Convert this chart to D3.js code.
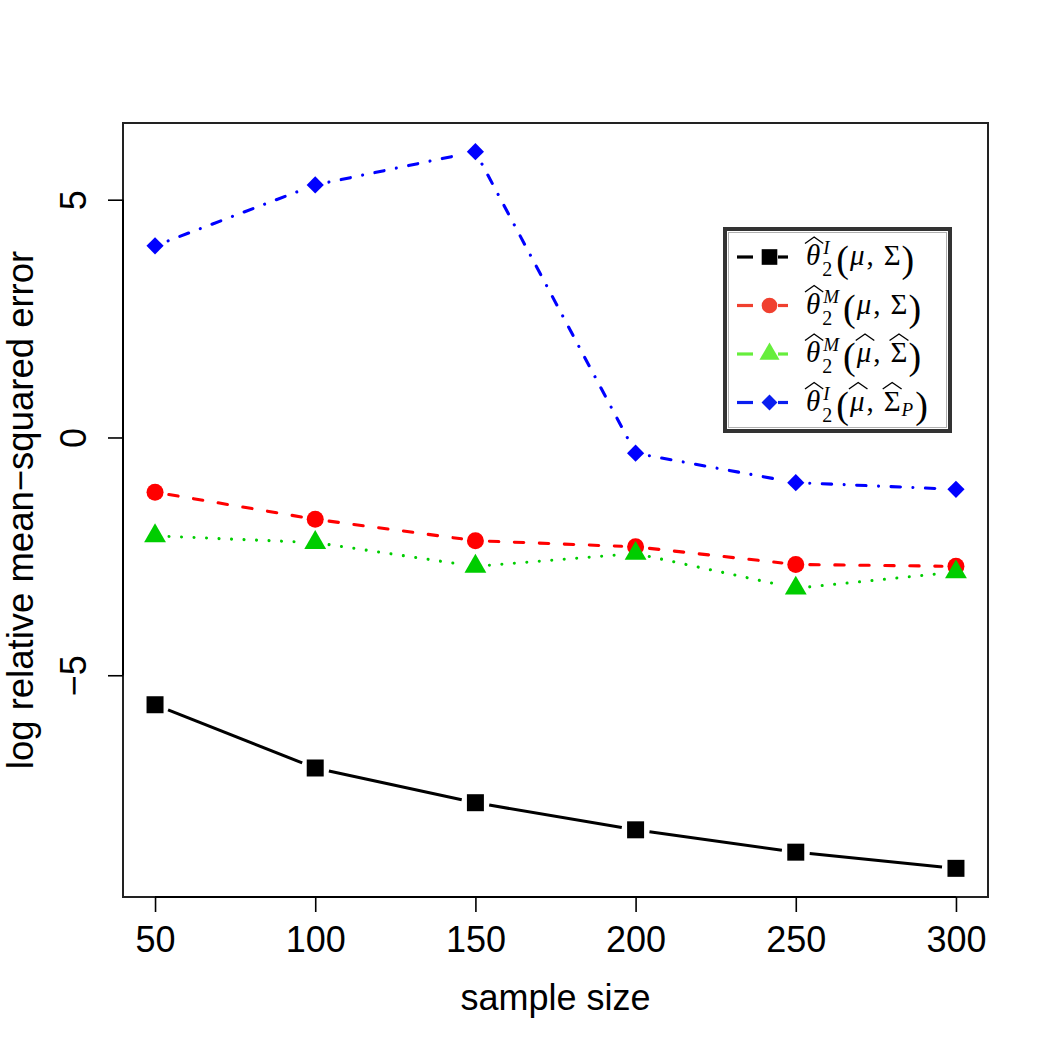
<!DOCTYPE html>
<html><head><meta charset="utf-8">
<script src="https://cdn.jsdelivr.net/npm/d3@7"></script>
<style>html,body{margin:0;padding:0;background:#fff;}</style>
</head><body>
<svg id="chart" width="1050" height="1050" xmlns="http://www.w3.org/2000/svg"></svg>
<script>
// ---------------- data ----------------
const sampleSizes = [50, 100, 150, 200, 250, 300];
const theta2I_mu_Sigma      = [-5.62, -6.95, -7.68, -8.25, -8.72, -9.06];
const theta2M_mu_Sigma      = [-1.15, -1.72, -2.17, -2.30, -2.67, -2.71];
const theta2M_muhat_Sighat  = [-2.07, -2.21, -2.71, -2.44, -3.17, -2.83];
const theta2I_muhat_SigP    = [4.03, 5.31, 6.01, -0.33, -0.95, -1.09];
const xTicks = [50, 100, 150, 200, 250, 300];
const yTicks = [-5, 0, 5];
const xLabel = "sample size";
const yLabel = "log relative mean\u2212squared error";
const legendSup = ["I", "M", "M", "I"];
const legendMuHat = [false, false, true, true];
const legendSigmaHat = [false, false, true, true];
const legendSigmaSub = ["", "", "", "P"];

// ---------------- styles ----------------
const series = [
  {values: theta2I_mu_Sigma,     color: "#000000", legendColor: "#000000", shape: "square",   dash: null},
  {values: theta2M_mu_Sigma,     color: "#FF0000", legendColor: "#f0402f", shape: "circle",   dash: "9.4 15.6"},
  {values: theta2M_muhat_Sighat, color: "#00CD00", legendColor: "#66ee3c", shape: "triangle", dash: "0.01 12.5"},
  {values: theta2I_muhat_SigP,   color: "#0000FF", legendColor: "#0a1ef0", shape: "diamond",  dash: "0.01 12.5 9.4 12.5"}
];

const plot = {left: 123, right: 988, top: 123, bottom: 897};
const svg = d3.select("#chart");
const sansFont = "'Liberation Sans', Arial, Helvetica, sans-serif";
const serifFont = "'Liberation Serif', 'Times New Roman', serif";

// R-like 4% axis extension
function padExtent(ext) { const r = ext[1] - ext[0]; return [ext[0] - 0.04 * r, ext[1] + 0.04 * r]; }
const allY = series.flatMap(s => s.values);
const x = d3.scaleLinear().domain(padExtent(d3.extent(sampleSizes))).range([plot.left, plot.right]);
const y = d3.scaleLinear().domain(padExtent(d3.extent(allY))).range([plot.bottom, plot.top]);

// ---------------- markers ----------------
function shapePath(shape, k) {
  k = k || 1;
  if (shape === "square") { const h = 8.5 * k; return `M${-h},${-h}H${h}V${h}H${-h}Z`; }
  if (shape === "circle") { const r = 8.5 * k; return `M${r},0A${r},${r} 0 1,1 ${-r},0A${r},${r} 0 1,1 ${r},0Z`; }
  if (shape === "triangle") { const xc = 8.1 * k; return `M0,${-1.555 * xc}L${1.347 * xc},${0.778 * xc}L${-1.347 * xc},${0.778 * xc}Z`; }
  if (shape === "diamond") { const h = 8.6 * k; return `M0,${-h}L${h},0L0,${h}L${-h},0Z`; }
}

// ---------------- box ----------------
svg.append("rect").attr("x", plot.left).attr("y", plot.top)
  .attr("width", plot.right - plot.left).attr("height", plot.bottom - plot.top)
  .attr("fill", "none").attr("stroke", "#222").attr("stroke-width", 2);

// ---------------- axes ----------------
const gx = svg.append("g").attr("transform", `translate(0,${plot.bottom})`)
  .call(d3.axisBottom(x).tickValues(xTicks).tickSize(15).tickSizeOuter(0).tickFormat(d3.format("d")));
gx.select(".domain").remove();
gx.append("line").attr("x1", x(xTicks[0])).attr("x2", x(xTicks[xTicks.length - 1]))
  .attr("y1", 0).attr("y2", 0).attr("stroke", "#000").attr("stroke-width", 2);
gx.selectAll(".tick line").attr("stroke", "#000").attr("stroke-width", 1.6);
gx.selectAll(".tick text").attr("y", 55).attr("dy", 0)
  .attr("font-family", sansFont).attr("font-size", 36).attr("fill", "#000");

const gy = svg.append("g").attr("transform", `translate(${plot.left},0)`)
  .call(d3.axisLeft(y).tickValues(yTicks).tickSize(15).tickSizeOuter(0).tickFormat(d => d < 0 ? "\u2212" + Math.abs(d) : d));
gy.select(".domain").remove();
gy.append("line").attr("y1", y(yTicks[0])).attr("y2", y(yTicks[yTicks.length - 1]))
  .attr("x1", 0).attr("x2", 0).attr("stroke", "#000").attr("stroke-width", 2);
gy.selectAll(".tick line").attr("stroke", "#000").attr("stroke-width", 1.6);
gy.selectAll(".tick text").attr("x", null).attr("dy", 0)
  .attr("transform", "translate(-37,0) rotate(-90)")
  .attr("text-anchor", "middle")
  .attr("font-family", sansFont).attr("font-size", 36).attr("fill", "#000");

svg.append("text").attr("x", (plot.left + plot.right) / 2).attr("y", 1010)
  .attr("text-anchor", "middle").attr("font-family", sansFont).attr("font-size", 36).text(xLabel);
svg.append("text").attr("transform", `translate(33,${(plot.top + plot.bottom) / 2}) rotate(-90)`)
  .attr("text-anchor", "middle").attr("font-family", sansFont).attr("font-size", 36.5).text(yLabel);

// ---------------- series (type = "b") ----------------
const gap = 14;
series.forEach(s => {
  const pts = sampleSizes.map((n, i) => [x(n), y(s.values[i])]);
  const g = svg.append("g");
  for (let i = 0; i < pts.length - 1; i++) {
    const [x0, y0] = pts[i], [x1, y1] = pts[i + 1];
    const dx = x1 - x0, dy = y1 - y0, L = Math.hypot(dx, dy);
    if (L <= 2 * gap) continue;
    const ux = dx / L, uy = dy / L;
    g.append("line")
      .attr("x1", x0 + ux * gap).attr("y1", y0 + uy * gap)
      .attr("x2", x1 - ux * gap).attr("y2", y1 - uy * gap)
      .attr("stroke", s.color).attr("stroke-width", 3.1)
      .attr("stroke-linecap", s.dash ? "round" : "butt")
      .attr("stroke-dasharray", s.dash);
  }
  g.selectAll("path").data(pts).enter().append("path")
    .attr("transform", d => `translate(${d[0]},${d[1]})`)
    .attr("d", shapePath(s.shape)).attr("fill", s.color);
});

// ---------------- legend ----------------
const lg = svg.append("g");
lg.append("rect").attr("x", 725).attr("y", 229).attr("width", 225).attr("height", 202)
  .attr("fill", "#fff").attr("stroke", "#333").attr("stroke-width", 4);
lg.append("rect").attr("x", 728.5).attr("y", 232.5).attr("width", 218).attr("height", 195)
  .attr("fill", "none").attr("stroke", "#b0b0b0").attr("stroke-width", 1);

const rowY = [257, 305.5, 354, 402.5];
function hat(g, x0, x1, cy) {
  g.append("path").attr("d", `M${x0},${cy - 13.5}L${(x0 + x1) / 2},${cy - 20}L${x1},${cy - 13.5}`)
    .attr("fill", "none").attr("stroke", "#000").attr("stroke-width", 1.4).attr("stroke-linejoin", "miter");
}
function txt(g, t, xx, yy, size, italic) {
  const el = g.append("text").attr("x", xx).attr("y", yy).attr("font-family", serifFont)
    .attr("font-size", size).attr("font-style", italic ? "italic" : "normal").attr("fill", "#000").text(t);
  return el.node().getComputedTextLength();
}
series.forEach((s, i) => {
  const cy = rowY[i];
  const row = lg.append("g");
  row.append("line").attr("x1", 737).attr("x2", 753).attr("y1", cy).attr("y2", cy)
    .attr("stroke", s.legendColor).attr("stroke-width", 3.2);
  row.append("line").attr("x1", 778).attr("x2", 788).attr("y1", cy).attr("y2", cy)
    .attr("stroke", s.legendColor).attr("stroke-width", 3.2);
  row.append("path").attr("transform", `translate(769.5,${cy})`)
    .attr("d", shapePath(s.shape, 0.92)).attr("fill", s.legendColor);

  const base = cy + 8;
  let cx = 806;
  let w = txt(row, "\u03B8", cx, base, 29, true);
  hat(row, cx - 1, cx + w + 3, cy);
  cx += w + 2;
  const supW = txt(row, legendSup[i], cx + 1, cy - 3, 19, true);
  const subW = txt(row, "2", cx, cy + 19, 20, false);
  cx += Math.max(supW + 1, subW) + 4;
  w = txt(row, "(", cx, cy + 15, 38, false); cx += w + 1;
  w = txt(row, "\u03BC", cx, base, 29, true);
  if (legendMuHat[i]) hat(row, cx - 1, cx + w + 3, cy);
  cx += w + 2;
  w = txt(row, ",", cx, base, 29, false); cx += w + 10;
  w = txt(row, "\u03A3", cx, base, 29, false);
  if (legendSigmaHat[i]) hat(row, cx - 1, cx + w + 1, cy);
  cx += w + 1;
  if (legendSigmaSub[i]) { w = txt(row, legendSigmaSub[i], cx, cy + 13, 19, true); cx += w + 2; }
  txt(row, ")", cx, cy + 15, 38, false);
});
</script>
</body></html>
